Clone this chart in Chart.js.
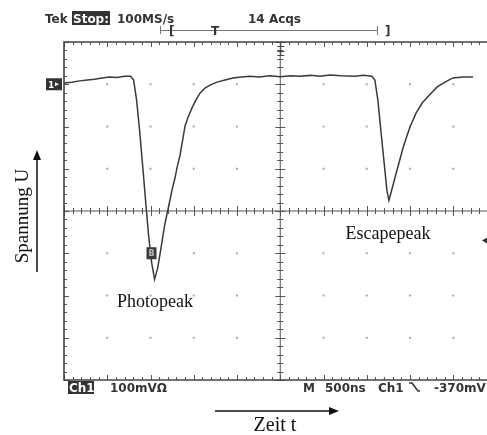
<!DOCTYPE html>
<html>
<head>
<meta charset="utf-8">
<script src="https://cdn.jsdelivr.net/npm/chart.js@4.4.1/dist/chart.umd.min.js"></script>
<style>
  html, body { margin: 0; padding: 0; background: #fff; overflow: hidden; }
  canvas { display: block; }
</style>
</head>
<body>
<canvas id="scope" width="487" height="435"></canvas>
<script>
// Zeitachse in ns (500 ns / Division), Spannung in mV (100 mV / Division)
const timeNs = [
  0, 90, 180, 270, 353, 440, 527, 610, 700, 770, 805, 839, 874, 909, 943,
  978, 1013, 1047, 1082, 1117, 1163, 1198, 1225, 1249, 1283, 1306, 1341,
  1376, 1399, 1434, 1480, 1526, 1572, 1630, 1688, 1769, 1861, 1954, 2050,
  2147, 2260, 2378, 2500, 2620, 2726, 2850, 2960, 3073, 3200, 3362, 3460,
  3559, 3594, 3628, 3663, 3698, 3733, 3756, 3790, 3820, 3850, 3919, 3960,
  4000, 4068, 4138, 4230, 4311, 4404, 4496, 4612, 4728
];
const voltageMv = [
  3, 5, 8, 10, 12, 15, 17, 16, 19, 19, 10, -37, -109, -192, -275,
  -358, -422, -462, -436, -393, -334, -300, -274, -250, -222, -198, -168,
  -127, -99, -78, -56, -37, -21, -9, -2, 5, 10, 15, 17,
  19, 17, 20, 18, 20, 19, 21, 19, 22, 20, 19, 21,
  19, 10, -37, -109, -180, -251, -275, -249, -226, -203, -151, -125,
  -101, -69, -45, -24, -7, 5, 15, 17, 17
];

// Raster des Oszilloskops
const timeDivs = [0, 500, 1000, 1500, 2000, 2500, 3000, 3500, 4000, 4500, 5000];
const voltDivs = [100, 0, -100, -200, -300, -400, -500, -600, -700];
const triggerLevelMv = -370;

// Beschriftungen
const headerTexts = ['Tek', 'Stop:', '100MS/s', '14 Acqs'];
const footerTexts = ['Ch1', '100mVΩ', 'M', '500ns', 'Ch1', '-370mV'];
const peakLabels = [
  { text: 'Photopeak', t: 1052, v: -515 },
  { text: 'Escapepeak', t: 3745, v: -354 }
];

const points = timeNs.map((t, i) => ({ x: t, y: voltageMv[i] }));

// Plugin für Raster, Rahmen und Texte
const scopeDecor = {
  id: 'scopeDecor',
  beforeDatasetsDraw(chart) {
    const ctx = chart.ctx;
    const xs = chart.scales.x;
    const ys = chart.scales.y;
    const left = xs.getPixelForValue(timeDivs[0]);
    const right = chart.chartArea.right;
    const top = ys.getPixelForValue(voltDivs[0]);
    const bottom = ys.getPixelForValue(voltDivs[voltDivs.length - 1]);
    const cx = xs.getPixelForValue(2500);
    const cy = ys.getPixelForValue(-300);

    ctx.save();
    // Punkte an den Kreuzungen
    ctx.fillStyle = '#a8a8a8';
    timeDivs.slice(1, -1).forEach(t => {
      voltDivs.slice(1, -1).forEach(v => {
        if (t === 2500 || v === -300) return;
        ctx.fillRect(xs.getPixelForValue(t) - 1, ys.getPixelForValue(v) - 1, 2, 2);
      });
    });

    ctx.strokeStyle = '#555';
    ctx.lineWidth = 1;
    ctx.beginPath();
    // Mittellinien
    ctx.moveTo(left, cy); ctx.lineTo(right, cy);
    ctx.moveTo(cx, top); ctx.lineTo(cx, bottom);
    // Kleine Striche (0.2 Div)
    for (let t = 0; t <= 5000; t += 100) {
      const x = Math.round(xs.getPixelForValue(t)) + 0.5;
      if (x > right) break;
      const len = (t % 500 === 0) ? 5 : 3;
      ctx.moveTo(x, cy - len); ctx.lineTo(x, cy + len);
      ctx.moveTo(x, top); ctx.lineTo(x, top + len);
      ctx.moveTo(x, bottom); ctx.lineTo(x, bottom - len);
    }
    for (let v = 100; v >= -700; v -= 20) {
      const y = Math.round(ys.getPixelForValue(v)) + 0.5;
      const len = (v % 100 === 0) ? 5 : 3;
      ctx.moveTo(cx - len, y); ctx.lineTo(cx + len, y);
      ctx.moveTo(left, y); ctx.lineTo(left + len, y);
    }
    ctx.stroke();

    // Rahmen
    ctx.lineWidth = 1.6;
    ctx.strokeStyle = '#444';
    ctx.beginPath();
    ctx.moveTo(right, top); ctx.lineTo(left, top); ctx.lineTo(left, bottom); ctx.lineTo(right, bottom);
    ctx.stroke();
    ctx.restore();
  },
  afterDraw(chart) {
    const ctx = chart.ctx;
    const xs = chart.scales.x;
    const ys = chart.scales.y;
    const left = xs.getPixelForValue(0);
    const top = ys.getPixelForValue(100);
    const cx = xs.getPixelForValue(2500);

    ctx.save();
    ctx.fillStyle = '#333';
    ctx.strokeStyle = '#333';
    ctx.font = 'bold 12px "DejaVu Sans"';
    ctx.textBaseline = 'alphabetic';

    // Kopfzeile
    ctx.fillText(headerTexts[0], 45, 23);
    ctx.fillRect(72, 11, 38, 14);
    ctx.fillStyle = '#fff';
    ctx.fillText(headerTexts[1], 73, 23);
    ctx.fillStyle = '#333';
    ctx.fillText(headerTexts[2], 117, 23);
    ctx.fillText(headerTexts[3], 248, 23);

    // Triggerbalken
    ctx.lineWidth = 1;
    ctx.strokeStyle = '#777';
    ctx.beginPath();
    ctx.moveTo(160.5, 26); ctx.lineTo(160.5, 34);
    ctx.moveTo(160, 30.5); ctx.lineTo(377, 30.5);
    ctx.moveTo(377.5, 26); ctx.lineTo(377.5, 35);
    ctx.stroke();
    ctx.font = 'bold 12px "DejaVu Sans"';
    ctx.fillText('[', 169, 35);
    ctx.fillText('T', 211, 35);
    ctx.fillText(']', 385, 35);

    // Triggerposition oben
    ctx.strokeStyle = '#444';
    ctx.beginPath();
    ctx.moveTo(cx + 0.5, top); ctx.lineTo(cx + 0.5, top + 14);
    ctx.moveTo(cx - 3, top + 4.5); ctx.lineTo(cx + 4, top + 4.5);
    ctx.moveTo(cx - 3, top + 9.5); ctx.lineTo(cx + 4, top + 9.5);
    ctx.moveTo(cx - 3, top + 13.5); ctx.lineTo(cx + 4, top + 13.5);
    ctx.stroke();

    // Kanal 1 Nullmarke
    const y0 = ys.getPixelForValue(0);
    ctx.fillStyle = '#333';
    ctx.fillRect(left - 18, y0 - 6, 16, 12);
    ctx.fillStyle = '#fff';
    ctx.font = 'bold 9px "DejaVu Sans"';
    ctx.fillText('1', left - 16, y0 + 4);
    ctx.beginPath();
    ctx.moveTo(left - 9, y0 - 2); ctx.lineTo(left - 5, y0); ctx.lineTo(left - 9, y0 + 2);
    ctx.fill();

    // Marke am Photopeak
    const bx = xs.getPixelForValue(1000);
    const by = ys.getPixelForValue(-400);
    ctx.fillStyle = '#3a3a3a';
    ctx.fillRect(bx - 4, by - 6, 10, 12);
    ctx.fillStyle = '#bbb';
    ctx.font = 'bold 8px "DejaVu Sans"';
    ctx.fillText('B', bx - 2, by + 3);

    // Triggerpegel rechts
    const ty = ys.getPixelForValue(triggerLevelMv);
    ctx.fillStyle = '#333';
    ctx.beginPath();
    ctx.moveTo(482, ty); ctx.lineTo(487, ty - 3); ctx.lineTo(487, ty + 3);
    ctx.fill();

    // Fusszeile
    ctx.font = 'bold 12px "DejaVu Sans"';
    ctx.fillRect(68, 381, 26, 13);
    ctx.fillStyle = '#fff';
    ctx.fillText(footerTexts[0], 69, 392);
    ctx.fillStyle = '#333';
    ctx.fillText(footerTexts[1], 110, 392);
    ctx.fillText(footerTexts[2], 303, 392);
    ctx.fillText(footerTexts[3], 325, 392);
    ctx.fillText(footerTexts[4], 378, 392);
    ctx.fillText(footerTexts[5], 434, 392);
    // fallende Flanke
    ctx.lineWidth = 1.6;
    ctx.strokeStyle = '#333';
    ctx.beginPath();
    ctx.moveTo(409, 383); ctx.lineTo(412, 383); ctx.lineTo(418, 391); ctx.lineTo(420, 391);
    ctx.stroke();

    // Peak-Beschriftungen
    ctx.fillStyle = '#111';
    ctx.font = '18px "Liberation Serif"';
    ctx.textAlign = 'center';
    ctx.textBaseline = 'middle';
    peakLabels.forEach(p => {
      ctx.fillText(p.text, xs.getPixelForValue(p.t), ys.getPixelForValue(p.v));
    });

    // Achsenbeschriftung Zeit
    ctx.lineWidth = 1.5;
    ctx.strokeStyle = '#111';
    ctx.beginPath();
    ctx.moveTo(215, 411); ctx.lineTo(332, 411);
    ctx.stroke();
    ctx.beginPath();
    ctx.moveTo(339, 411); ctx.lineTo(329, 407); ctx.lineTo(329, 415);
    ctx.fill();
    ctx.font = '20px "Liberation Serif"';
    ctx.fillText('Zeit t', 275, 426);

    // Achsenbeschriftung Spannung
    ctx.beginPath();
    ctx.moveTo(37, 272); ctx.lineTo(37, 158);
    ctx.stroke();
    ctx.beginPath();
    ctx.moveTo(37, 150); ctx.lineTo(33, 160); ctx.lineTo(41, 160);
    ctx.fill();
    ctx.translate(23, 216);
    ctx.rotate(-Math.PI / 2);
    ctx.font = '19px "Liberation Serif"';
    ctx.fillText('Spannung U', 0, 0);
    ctx.restore();
  }
};

const ctx = document.getElementById('scope').getContext('2d');
new Chart(ctx, {
  type: 'line',
  data: {
    datasets: [{
      data: points,
      borderColor: '#3a3a3a',
      borderWidth: 1.5,
      pointRadius: 0,
      tension: 0,
      fill: false
    }]
  },
  options: {
    responsive: false,
    animation: false,
    devicePixelRatio: 1,
    layout: { padding: { left: 64, top: 42, right: 0, bottom: 55 } },
    plugins: {
      legend: { display: false },
      tooltip: { enabled: false }
    },
    scales: {
      x: { type: 'linear', min: 0, max: 4890, display: false },
      y: { type: 'linear', min: -700, max: 100, display: false }
    }
  },
  plugins: [scopeDecor]
});
</script>
</body>
</html>
